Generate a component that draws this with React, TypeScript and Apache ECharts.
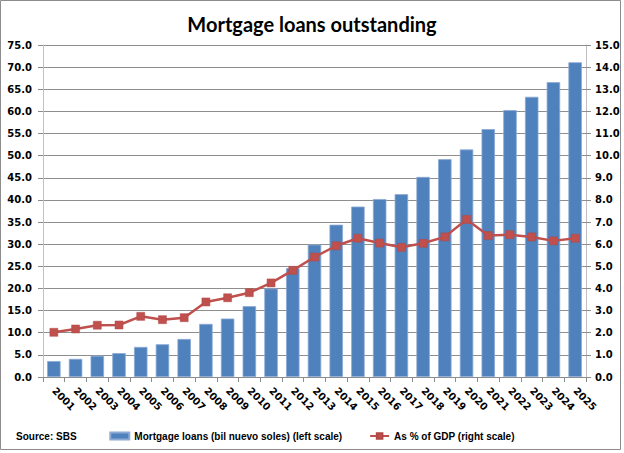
import React, { useEffect, useRef } from 'react';
import * as echarts from 'echarts';

// values
const years = [
  '2001', '2002', '2003', '2004', '2005', '2006', '2007', '2008', '2009', '2010',
  '2011', '2012', '2013', '2014', '2015', '2016', '2017', '2018', '2019', '2020',
  '2021', '2022', '2023', '2024', '2025',
];
const loans = [
  3.6, 4.1, 4.8, 5.4, 6.8, 7.4, 8.6, 12.0, 13.2, 16.0,
  20.0, 24.6, 29.9, 34.4, 38.5, 40.2, 41.3, 45.2, 49.2, 51.4,
  56.0, 60.3, 63.3, 66.6, 71.1,
];
const pctGdp = [
  2.02, 2.17, 2.34, 2.35, 2.74, 2.59, 2.68, 3.39, 3.58, 3.81,
  4.25, 4.82, 5.42, 5.93, 6.27, 6.05, 5.86, 6.04, 6.33, 7.12,
  6.39, 6.43, 6.33, 6.15, 6.27,
];

const axisFont = { fontFamily: 'DejaVu Sans', fontWeight: 'bold' as const, fontSize: 10, color: '#000' };

const App: React.FC = () => {
  const ref = useRef<HTMLDivElement>(null);

  useEffect(() => {
    document.body.style.margin = '0';
    if (!ref.current) return;
    const chart = echarts.init(ref.current, null, { renderer: 'svg' });
    chart.setOption({
      animation: false,
      backgroundColor: '#fff',
      title: {
        text: 'Mortgage loans outstanding',
        left: 'center',
        top: 9,
        textStyle: { fontFamily: 'Lato', fontWeight: 'bold', fontSize: 20, color: '#000' },
      },
      graphic: [
        {
          type: 'rect',
          shape: { x: 0.5, y: 0.5, width: 620, height: 449 },
          style: { fill: 'none', stroke: '#8c8c8c', lineWidth: 1 },
          silent: true,
        },
        {
          type: 'text',
          left: 16,
          top: 431,
          style: {
            text: 'Source: SBS',
            fontFamily: 'Liberation Sans',
            fontWeight: 'bold',
            fontSize: 10,
            fill: '#000',
          },
        },
      ],
      legend: {
        left: 'center',
        top: 426,
        itemWidth: 19,
        itemHeight: 7,
        itemGap: 27,
        textStyle: { fontFamily: 'Liberation Sans', fontWeight: 'bold', fontSize: 10, color: '#000' },
        data: [
          { name: 'Mortgage loans (bil nuevo soles) (left scale)', icon: 'rect' },
          { name: 'As % of GDP (right scale)' },
        ],
      },
      grid: { left: 43, right: 38, top: 45, bottom: 76 },
      xAxis: {
        type: 'category',
        data: years,
        boundaryGap: true,
        axisLine: { lineStyle: { color: '#8c8c8c' } },
        axisTick: { show: true, interval: 0, length: 5, lineStyle: { color: '#8c8c8c' } },
        axisLabel: { ...axisFont, interval: 0, rotate: -45, margin: 12 },
      },
      yAxis: [
        {
          type: 'value',
          min: 0,
          max: 75,
          interval: 5,
          axisLine: { show: true, lineStyle: { color: '#c0c0c0' } },
          axisTick: { show: true, length: 5, lineStyle: { color: '#8c8c8c' } },
          axisLabel: { ...axisFont, margin: 11, formatter: (v: number) => v.toFixed(1) },
          splitLine: { lineStyle: { color: '#8e8e8e' } },
        },
        {
          type: 'value',
          min: 0,
          max: 15,
          interval: 1,
          position: 'right',
          axisLine: { show: true, lineStyle: { color: '#c0c0c0' } },
          axisTick: { show: true, length: 5, lineStyle: { color: '#8c8c8c' } },
          axisLabel: { ...axisFont, margin: 9, formatter: (v: number) => v.toFixed(1) },
          splitLine: { show: false },
        },
      ],
      series: [
        {
          name: 'Mortgage loans (bil nuevo soles) (left scale)',
          type: 'bar',
          data: loans,
          barCategoryGap: '38%',
          itemStyle: { color: '#4f81bd', borderColor: '#8caad4', borderWidth: 0.8 },
        },
        {
          name: 'As % of GDP (right scale)',
          type: 'line',
          yAxisIndex: 1,
          data: pctGdp,
          symbol: 'rect',
          symbolSize: 8,
          lineStyle: { color: '#c0504d', width: 2.5 },
          itemStyle: { color: '#c0504d', borderColor: '#b04845', borderWidth: 0.5 },
        },
      ],
    });
    return () => {
      chart.dispose();
    };
  }, []);

  return <div ref={ref} style={{ width: 624, height: 453 }} />;
};

export default App;
